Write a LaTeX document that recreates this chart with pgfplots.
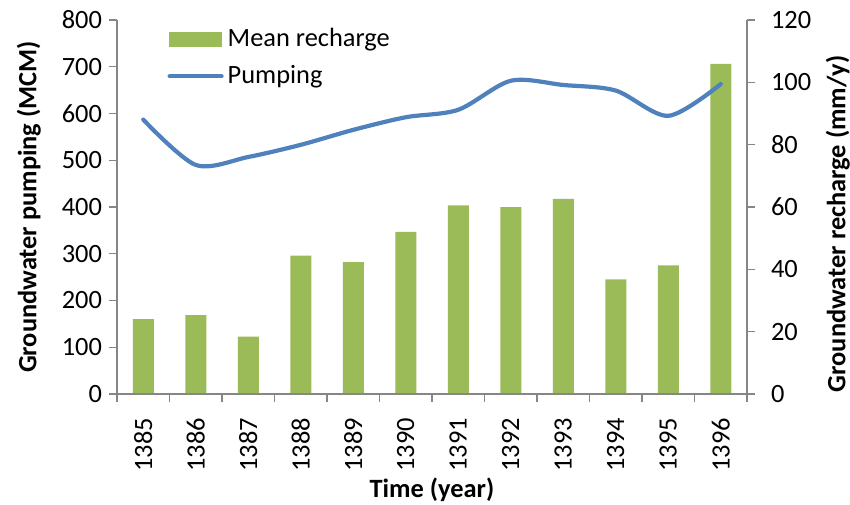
\documentclass[border=0pt]{standalone}
\usepackage{pgfplots}
\pgfplotsset{compat=1.18}
\usepackage{fontspec}
\setmainfont{Carlito}
\definecolor{barcol}{HTML}{9BBB59}
\definecolor{linecol}{HTML}{4F81BD}
\definecolor{axcol}{HTML}{868686}

\pgfplotstableread{
x rech
0 24.0
1 25.3
2 18.4
3 44.4
4 42.3
5 52.0
6 60.5
7 60.0
8 62.6
9 36.8
10 41.3
11 105.9
}\recharge

\pgfplotstableread{
x pump
0 587
1 490
2 507
3 533
4 565
5 592
6 608
7 670
8 661
9 649
10 595
11 663
}\pumping

\begin{document}
\begin{tikzpicture}
\useasboundingbox (-58.5pt,-55pt) rectangle (366.5pt,197pt);
\pgfplotsset{
  common/.style={
    scale only axis, width=315pt, height=187pt,
    at={(0,0)}, anchor=south west,
    xmin=-0.5, xmax=11.5,
    /pgf/number format/assume math mode=true,
    tick label style={font=\fontsize{13.2}{15}\selectfont},
    label style={font=\fontsize{13.2}{15}\selectfont\bfseries},
    axis line style={axcol, line width=0.7pt},
    every tick/.style={axcol, line width=0.7pt},
    tick align=outside,
    major tick length=4pt,
    minor tick length=4pt,
  }
}
\begin{axis}[common,
  axis x line=none,
  axis y line*=right,
  ymin=0, ymax=120, ytick={0,20,...,120},
  yticklabel={\hspace{4.5pt}\pgfmathprintnumber{\tick}},
  ylabel={Groundwater recharge (mm/y)},
  ylabel style={at={(axis description cs:1.144,0.455)}, anchor=center},
]
\addplot[ybar, bar width=10.5pt, fill=barcol, draw=none] table[x=x, y=rech] {\recharge};
\end{axis}
\begin{axis}[common,
  axis x line*=bottom, axis y line*=left,
  ymin=0, ymax=800, ytick={0,100,...,800},
  yticklabel={\pgfmathprintnumber{\tick}\hspace{4.5pt}},
  xtick={0,...,11},
  xticklabels={1385,1386,1387,1388,1389,1390,1391,1392,1393,1394,1395,1396},
  major x tick style={draw=none},
  minor xtick={-0.5,0.5,...,11.5},
  xticklabel style={rotate=90, anchor=east},
  xticklabel shift=4.5pt,
  xlabel={Time (year)},
  xlabel style={at={(axis description cs:0.5,-0.257)}, anchor=center},
  ylabel={Groundwater pumping (MCM)},
  ylabel style={at={(axis description cs:-0.14,0.5)}, anchor=center},
  legend style={at={(0.07,1)}, anchor=north west, draw=none, fill=none,
    font=\fontsize{13.2}{15}\selectfont, row sep=4pt},
  legend cell align=left,
]
\addlegendimage{legend image code/.code={\fill[barcol] (0pt,-3.5pt) rectangle (26pt,3.5pt);}}
\addlegendentry{Mean recharge}
\addplot[linecol, line width=2.1pt, smooth, line cap=round,
  legend image code/.code={\draw[linecol, line width=2.1pt, line cap=round] (0pt,0pt) -- (26pt,0pt);}]
  table[x=x, y=pump] {\pumping};
\addlegendentry{Pumping}
\end{axis}
\end{tikzpicture}
\end{document}
